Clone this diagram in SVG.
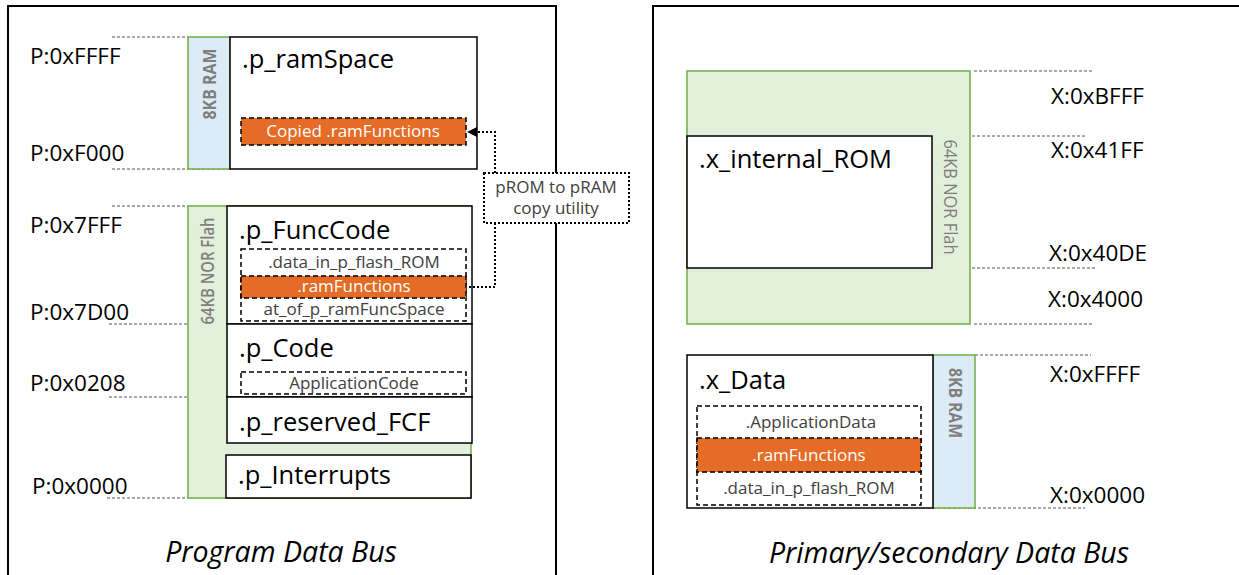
<svg xmlns="http://www.w3.org/2000/svg" width="1239" height="575" viewBox="0 0 1239 575">
<defs>
<style>
.panel{fill:#fff;stroke:#000;stroke-width:2}
.box{fill:#fff;stroke:#000;stroke-width:1.5}
.dash{fill:#fff;stroke:#000;stroke-width:1.5;stroke-dasharray:5 3}
.orange{fill:#E46C27;stroke:#000;stroke-width:1.5;stroke-dasharray:5 3}
.ram{fill:#DDEBF7;stroke:#70AD47;stroke-width:1.5}
.flash{fill:#E2EFDA;stroke:#70AD47;stroke-width:1.5}
.guide{stroke:#555;stroke-width:1;stroke-dasharray:3 2;fill:none}
.addr{font-family:"Open Sans","Noto Sans",sans-serif;font-size:22.5px;fill:#000}
.title{font-family:"Open Sans","Noto Sans",sans-serif;font-size:25.5px;fill:#000}
.small{font-family:"Open Sans","Noto Sans",sans-serif;font-size:17px;fill:#404040;text-anchor:middle}
.white{font-family:"Open Sans","Noto Sans",sans-serif;font-size:17px;fill:#fff;text-anchor:middle}
.bar{font-family:"Open Sans","Noto Sans",sans-serif;font-size:18px;fill:#7F7F7F;text-anchor:middle;dominant-baseline:central}
.bus{font-family:"Open Sans","Noto Sans",sans-serif;font-size:28.5px;font-style:italic;fill:#000;text-anchor:middle}
.conn{fill:none;stroke:#000;stroke-width:2;stroke-dasharray:2 2}
</style>
<marker id="arr" markerWidth="10" markerHeight="10" refX="9" refY="5" orient="auto" markerUnits="userSpaceOnUse">
<path d="M0,0 L10,5 L0,10 Z" fill="#000"/>
</marker>
</defs>
<rect width="1239" height="575" fill="#fff"/>

<g id="program-bus">
<rect class="panel" x="8" y="6" width="548" height="590"/>
<text class="bus" x="281" y="562">Program Data Bus</text>
</g>
<g id="primary-bus">
<rect class="panel" x="653" y="6" width="600" height="590"/>
<text class="bus" x="949" y="563">Primary/secondary Data Bus</text>
</g>

<g id="guides">
<line class="guide" x1="112" y1="37" x2="188" y2="37"/>
<line class="guide" x1="112" y1="169" x2="230" y2="169"/>
<line class="guide" x1="112" y1="206" x2="188" y2="206"/>
<line class="guide" x1="109" y1="324" x2="227" y2="324"/>
<line class="guide" x1="109" y1="397" x2="227" y2="397"/>
<line class="guide" x1="107" y1="498" x2="188" y2="498"/>
<line class="guide" x1="974" y1="71" x2="1093" y2="71"/>
<line class="guide" x1="932" y1="136" x2="1085" y2="136"/>
<line class="guide" x1="932" y1="268" x2="1096" y2="268"/>
<line class="guide" x1="974" y1="324" x2="1093" y2="324"/>
<line class="guide" x1="975" y1="355" x2="1091" y2="355"/>
<line class="guide" x1="933" y1="508" x2="1085" y2="508"/>
</g>

<g id="addresses">
<text class="addr" x="30" y="64">P:0xFFFF</text>
<text class="addr" x="30" y="161">P:0xF000</text>
<text class="addr" x="30" y="233">P:0x7FFF</text>
<text class="addr" x="30" y="320">P:0x7D00</text>
<text class="addr" x="30" y="391">P:0x0208</text>
<text class="addr" x="32" y="494">P:0x0000</text>
<text class="addr" x="1051" y="104">X:0xBFFF</text>
<text class="addr" x="1051" y="158">X:0x41FF</text>
<text class="addr" x="1049" y="261">X:0x40DE</text>
<text class="addr" x="1048" y="307">X:0x4000</text>
<text class="addr" x="1050" y="382">X:0xFFFF</text>
<text class="addr" x="1050" y="503">X:0x0000</text>
</g>

<g id="p-ram-bar">
<rect class="ram" x="188" y="37" width="42" height="132"/>
<text class="bar" font-weight="bold" textLength="71" lengthAdjust="spacingAndGlyphs" transform="translate(209,84) rotate(-90)">8KB RAM</text>
</g>
<g id="p-flash-bar">
<rect class="flash" x="188" y="206" width="283" height="292"/>
<text class="bar" font-weight="600" textLength="107" lengthAdjust="spacingAndGlyphs" transform="translate(207,271) rotate(-90)">64KB NOR Flah</text>
</g>

<g id="p_ramSpace">
<rect class="box" x="230" y="37" width="247" height="132"/>
<text class="title" x="242" y="68">.p_ramSpace</text>
<rect class="orange" x="241" y="118" width="225" height="27"/>
<text class="white" x="353" y="137">Copied .ramFunctions</text>
</g>

<g id="p_FuncCode">
<rect class="box" x="227" y="206" width="245" height="118"/>
<text class="title" x="239" y="239">.p_FuncCode</text>
<rect class="dash" x="241" y="249" width="225" height="72"/>
<text class="small" x="354" y="268">.data_in_p_flash_ROM</text>
<rect class="orange" x="241" y="276" width="225" height="22"/>
<text class="white" x="354" y="292">.ramFunctions</text>
<text class="small" x="354" y="315">at_of_p_ramFuncSpace</text>
</g>

<g id="p_Code">
<rect class="box" x="227" y="324" width="245" height="73"/>
<text class="title" x="239" y="357">.p_Code</text>
<rect class="dash" x="241" y="372" width="225" height="22"/>
<text class="small" x="354" y="389">ApplicationCode</text>
</g>

<g id="p_reserved_FCF">
<rect class="box" x="227" y="397" width="245" height="46"/>
<text class="title" x="239" y="431">.p_reserved_FCF</text>
</g>

<g id="p_Interrupts">
<rect class="box" x="226" y="455" width="245" height="43" stroke="#333" stroke-width="2"/>
<text class="title" x="238" y="484">.p_Interrupts</text>
</g>

<g id="x-flash">
<rect class="flash" x="687" y="71" width="283" height="253"/>
<text class="bar" textLength="115" lengthAdjust="spacingAndGlyphs" transform="translate(951,197) rotate(90)">64KB NOR Flah</text>
</g>
<g id="x_internal_ROM">
<rect class="box" x="687" y="136" width="245" height="132"/>
<text class="title" x="699" y="168">.x_internal_ROM</text>
</g>

<g id="x-ram-bar">
<rect class="ram" x="933" y="355" width="42" height="153"/>
<text class="bar" font-weight="bold" textLength="70" lengthAdjust="spacingAndGlyphs" transform="translate(956,403) rotate(90)">8KB RAM</text>
</g>
<g id="x_Data">
<rect class="box" x="687" y="355" width="246" height="153"/>
<text class="title" x="699" y="389">.x_Data</text>
<rect class="dash" x="697" y="406" width="224" height="99"/>
<text class="small" x="811" y="428">.ApplicationData</text>
<rect class="orange" x="697" y="438" width="224" height="34"/>
<text class="white" x="809" y="461">.ramFunctions</text>
<text class="small" x="809" y="494">.data_in_p_flash_ROM</text>
</g>

<g id="connectors">
<polyline class="conn" points="495,173 495,132 468,132" marker-end="url(#arr)"/>
<polyline class="conn" points="495,223 495,287 467,287"/>
</g>

<g id="copy-utility">
<rect x="484" y="173" width="145" height="50" fill="#fff" stroke="#000" stroke-width="2" stroke-dasharray="2 2"/>
<text class="small" x="556" y="193">pROM to pRAM</text>
<text class="small" x="556" y="214">copy utility</text>
</g>
</svg>
